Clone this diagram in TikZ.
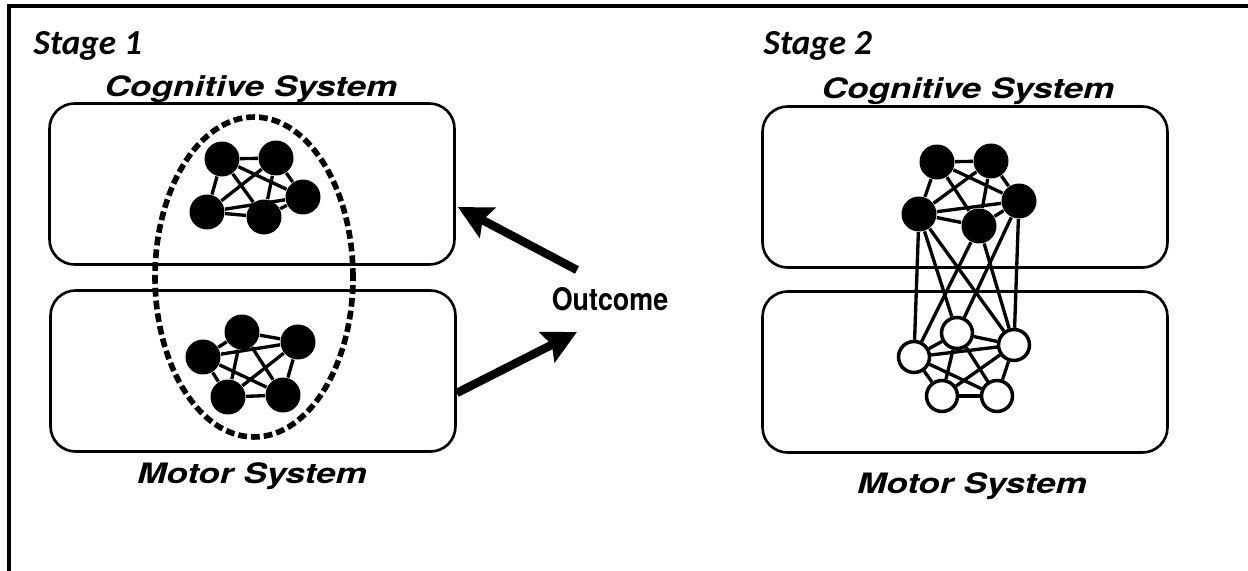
\documentclass[tikz,border=0pt]{standalone}
\usepackage{fontspec}
\usepackage{graphicx}
\usepackage{tikz}
\usetikzlibrary{positioning,arrows.meta,shapes.geometric}
\newfontfamily\labfont{TeX Gyre Heros}
\newfontfamily\stagefont{Carlito}
\newcommand{\syslabel}[1]{\scalebox{1.25}[1]{\labfont\bfseries\itshape #1}}

\begin{document}
\begin{tikzpicture}[x=0.02cm,y=-0.02cm,thick]
  \tikzstyle{sysbox}=[draw,line width=1.5pt,rounded corners=0.5cm,minimum width=8.1cm,minimum height=3.22cm,inner sep=0pt]
  \tikzstyle{full}=[circle,fill=black,minimum size=0.7cm,inner sep=0pt]
  \tikzstyle{hollow}=[circle,draw,fill=white,line width=2pt,minimum size=0.62cm,inner sep=0pt]
  \tikzstyle{link}=[line width=1.9pt]
  \tikzstyle{bigarrow}=[line width=4.8pt,-{Stealth[length=19pt,width=19pt,inset=3pt]}]
  \tikzstyle{syslab}=[font=\fontsize{16}{19}\selectfont,anchor=base,inner sep=0pt]
  \tikzstyle{stagelab}=[font=\stagefont\bfseries\itshape\fontsize{20}{24}\selectfont,anchor=base west,inner sep=0pt]

  \useasboundingbox (0,0) rectangle (1248,571);
  \draw[line width=2.2pt] (9,571) -- (9,6) -- (1248,6);

  % stage 1
  \node[stagelab] (st1) at (33,55) {Stage 1};
  \node[sysbox] (cog1) at (252,184) {};
  \node[sysbox] (mot1) at (253,371) {};
  \node[syslab] (cl1) at (251,97) {\syslabel{Cognitive System}};
  \node[syslab] (ml1) at (252,483) {\syslabel{Motor System}};
  \node[draw,ellipse,dash pattern=on 5pt off 2.3pt,line width=3.2pt,minimum width=3.96cm,minimum height=6.4cm,inner sep=0pt] (grp) at (254,277) {};

  \node[full] (a1) at (222,159) {};
  \node[full] (a2) at (276,158) {};
  \node[full] (a3) at (303,197) {};
  \node[full] (a4) at (264,217) {};
  \node[full] (a5) at (207,212) {};
  \foreach \s/\t in {a1/a2,a1/a3,a1/a4,a1/a5,a2/a3,a2/a4,a2/a5,a3/a4,a3/a5,a4/a5}
    \draw[link] (\s) -- (\t);

  \node[full] (b1) at (242,332) {};
  \node[full] (b2) at (298,342) {};
  \node[full] (b3) at (203,357) {};
  \node[full] (b4) at (228,397) {};
  \node[full] (b5) at (283,395) {};
  \foreach \s/\t in {b1/b2,b1/b3,b1/b4,b1/b5,b2/b3,b2/b4,b2/b5,b3/b4,b3/b5,b4/b5}
    \draw[link] (\s) -- (\t);

  % outcome
  \node[font=\labfont\bfseries\fontsize{15}{18}\selectfont,anchor=base,inner sep=0pt] (outc) at (610,310) {\scalebox{1.02}[1.18]{Outcome}};
  \coordinate (oup) at (577,270);
  \coordinate (odown) at (577,332);
  \draw[bigarrow] (oup) -- ([shift={(2,23)}]cog1.east);
  \draw[bigarrow] ([shift={(0,22)}]mot1.east) -- (odown);

  % stage 2
  \node[stagelab] (st2) at (763,55) {Stage 2};
  \node[sysbox] (cog2) at (965,187) {};
  \node[sysbox] (mot2) at (965,372) {};
  \node[syslab] (cl2) at (968,99) {\syslabel{Cognitive System}};
  \node[syslab] (ml2) at (972,493) {\syslabel{Motor System}};

  \node[full] (c1) at (937,162) {};
  \node[full] (c2) at (991,161) {};
  \node[full] (c3) at (1019,201) {};
  \node[full] (c4) at (919,214) {};
  \node[full] (c5) at (979,226) {};
  \node[hollow] (d1) at (957,333) {};
  \node[hollow] (d2) at (1014,345) {};
  \node[hollow] (d3) at (914,357) {};
  \node[hollow] (d4) at (942,396) {};
  \node[hollow] (d5) at (997,396) {};
  \foreach \s/\t in {c1/c2,c1/c3,c1/c4,c1/c5,c2/c3,c2/c4,c2/c5,c3/c4,c3/c5,c4/c5,
                     d1/d2,d1/d3,d1/d4,d1/d5,d2/d3,d2/d4,d2/d5,d3/d4,d3/d5,d4/d5,
                     c4/d3,c4/d1,c4/d2,c5/d3,c5/d2,c3/d1,c3/d2}
    \draw[link] (\s) -- (\t);

\end{tikzpicture}
\end{document}
